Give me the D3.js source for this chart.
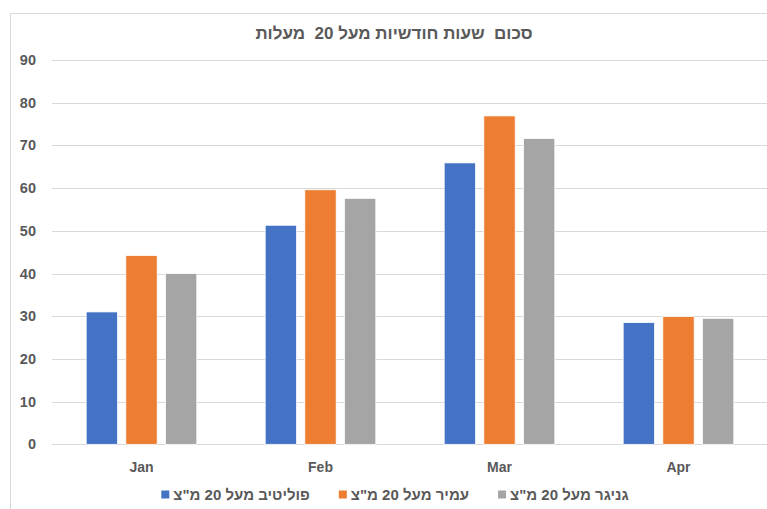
<!DOCTYPE html>
<html>
<head>
<meta charset="utf-8">
<script src="https://cdn.jsdelivr.net/npm/d3@7"></script>
<style>
  html, body { margin: 0; padding: 0; background: #fff; overflow: hidden; }
  text { font-family: "Liberation Sans", Arial, sans-serif; font-weight: bold; fill: #595959; }
</style>
</head>
<body>
<div id="chart"></div>
<script>
// Chart data
const months = ["Jan", "Feb", "Mar", "Apr"];
const seriesNames = ["פוליטיב מעל 20 מ\"צ", "עמיר מעל 20 מ\"צ", "גניגר מעל 20 מ\"צ"];
const polytivValues = [31, 51.3, 65.9, 28.5];
const amirValues = [44.2, 59.6, 76.9, 29.9];
const ganigarValues = [40, 57.6, 71.6, 29.5];
const yTicks = [0, 10, 20, 30, 40, 50, 60, 70, 80, 90];
const titleText = "סכום  שעות חודשיות מעל 20  מעלות";

const colors = ["#4472C4", "#ED7D31", "#A5A5A5"];
const seriesValues = [polytivValues, amirValues, ganigarValues];

const width = 767;
const height = 509;

const svg = d3.select("#chart").append("svg")
    .attr("width", width)
    .attr("height", height);

// chart frame (runs off the right / bottom edge like the screenshot)
svg.append("rect")
    .attr("x", 10.5).attr("y", 13.5)
    .attr("width", 780).attr("height", 520)
    .attr("fill", "#fff")
    .attr("stroke", "#d9d9d9");

const x0 = d3.scaleBand()
    .domain(months)
    .range([52, 768])
    .paddingInner(0.382)
    .paddingOuter(0.191);

const x1 = d3.scaleBand()
    .domain(d3.range(seriesNames.length))
    .range([0, x0.bandwidth()])
    .paddingInner(0.21);

const y = d3.scaleLinear()
    .domain([0, 90])
    .range([444.3, 60]);

// gridlines
svg.append("g")
    .selectAll("line")
    .data(yTicks)
    .join("line")
    .attr("x1", 52).attr("x2", 768)
    .attr("y1", d => Math.round(y(d)) + 0.5)
    .attr("y2", d => Math.round(y(d)) + 0.5)
    .attr("stroke", "#d9d9d9")
    .attr("stroke-width", 1);

// y labels
svg.append("g")
    .selectAll("text")
    .data(yTicks)
    .join("text")
    .attr("x", 36)
    .attr("y", d => y(d))
    .attr("dy", "0.35em")
    .attr("text-anchor", "end")
    .attr("font-size", 14.5)
    .text(d => d);

// bars
const groups = svg.append("g")
    .selectAll("g")
    .data(months)
    .join("g")
    .attr("transform", d => `translate(${x0(d)},0)`);

groups.selectAll("rect")
    .data((m, i) => seriesValues.map((vals, s) => ({ s, v: vals[i] })))
    .join("rect")
    .attr("x", d => x1(d.s))
    .attr("width", x1.bandwidth())
    .attr("y", d => y(d.v))
    .attr("height", d => y(0) - y(d.v))
    .attr("fill", d => colors[d.s])
    .attr("stroke", "#fff")
    .attr("stroke-width", 0.75);

// x labels
svg.append("g")
    .selectAll("text")
    .data(months)
    .join("text")
    .attr("x", d => x0(d) + x0.bandwidth() / 2)
    .attr("y", 471.5)
    .attr("text-anchor", "middle")
    .attr("font-size", 14)
    .text(d => d);

// title
svg.append("text")
    .attr("x", 394)
    .attr("y", 39)
    .attr("text-anchor", "middle")
    .attr("direction", "rtl")
    .attr("font-size", 17)
    .style("white-space", "pre")
    .text(titleText);

// legend, laid out left to right and centred
const legend = svg.append("g");
const items = legend.selectAll("g")
    .data(seriesNames)
    .join("g");

items.append("rect")
    .attr("width", 8).attr("height", 8)
    .attr("y", -9.5)
    .attr("fill", (d, i) => colors[i]);

const labels = items.append("text")
    .attr("font-size", 15)
    .attr("direction", "rtl")
    .attr("text-anchor", "middle")
    .text(d => d);

const widths = labels.nodes().map(n => n.getComputedTextLength());
const itemGap = 29;
const total = d3.sum(widths) + widths.length * 12 + (widths.length - 1) * itemGap;
let cursor = 395 - total / 2;
items.each(function (d, i) {
    const g = d3.select(this);
    g.attr("transform", `translate(${cursor},500)`);
    g.select("text").attr("x", 12 + widths[i] / 2);
    cursor += 12 + widths[i] + itemGap;
});
</script>
</body>
</html>
